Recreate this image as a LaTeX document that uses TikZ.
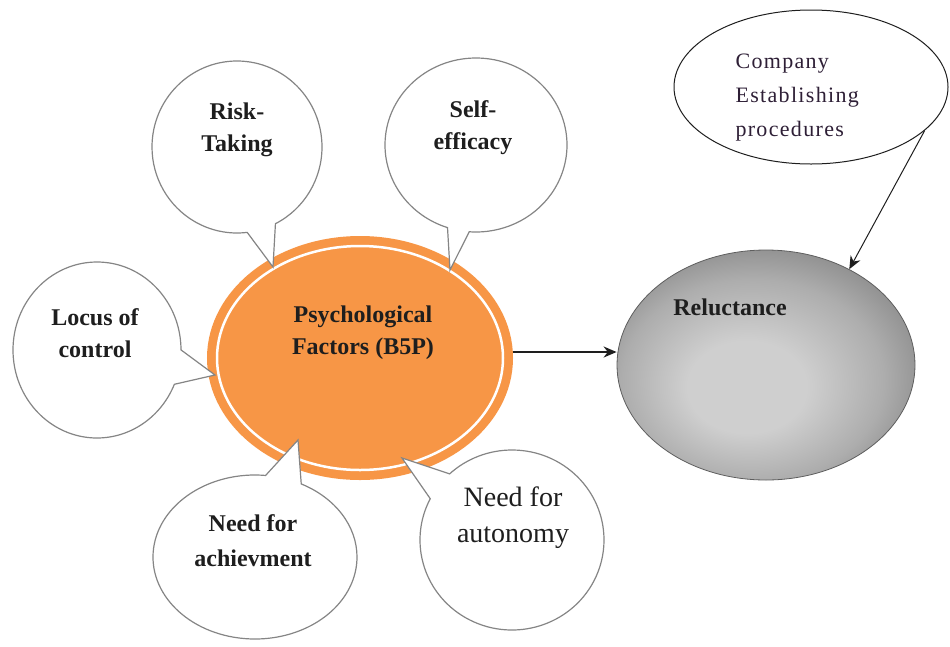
\documentclass[tikz,border=0pt]{standalone}
\usepackage{fontspec}
\setmainfont{Liberation Serif}
\newfontfamily\spacedserif[LetterSpace=6]{Liberation Serif}
\usetikzlibrary{arrows.meta,shapes.geometric,shapes.callouts}
\definecolor{psyorange}{HTML}{F79646}
\definecolor{bubblegray}{HTML}{858585}
\definecolor{inkblack}{HTML}{1E1E1E}
\definecolor{procink}{HTML}{2E1F36}
\definecolor{relLight}{HTML}{CFCFCF}
\definecolor{relMid}{HTML}{ADADAD}
\definecolor{relEdge}{HTML}{8A8A8A}
\definecolor{relDark}{HTML}{5E5E5E}
\pgfdeclareradialshading{relshade}{\pgfpoint{-4bp}{-6bp}}{color(0bp)=(relLight); color(10bp)=(relLight); color(22bp)=(relMid); color(30bp)=(relEdge); color(50bp)=(relDark)}

\begin{document}
\begin{tikzpicture}[x=1pt,y=-1pt,>={Stealth[length=13pt,width=11pt]},
    bubble node/.style={ellipse callout,draw=bubblegray,fill=white,line width=1.2pt,inner sep=0pt},
    bold text/.style={align=center,text=inkblack,font=\bfseries\fontsize{24}{32}\selectfont}]

  \useasboundingbox (0,0) rectangle (950,646);

  % central factor and the outcome
  \node[ellipse,minimum width=286pt,minimum height=224pt,fill=psyorange,draw=white,
        line width=2.5pt,outer sep=10pt,preaction={draw=psyorange,line width=20pt}] (psy) at (360,358) {};
  \node[ellipse,minimum width=298pt,minimum height=230pt,shading=relshade,
        draw=relDark,line width=0.8pt] (rel) at (766,365) {};
  \node[ellipse,minimum width=274pt,minimum height=154pt,fill=white,
        draw=inkblack,line width=1pt] (comp) at (811,87) {};

  % the five callouts
  \node[bubble node,minimum width=170pt,minimum height=172pt,callout pointer arc=20,
        callout absolute pointer={(273,267)}] (risk) at (237,147) {};
  \node[bubble node,minimum width=182pt,minimum height=174pt,callout pointer arc=14,
        callout absolute pointer={(450,270)}] (self) at (476,145) {};
  \node[bubble node,minimum width=168pt,minimum height=176pt,callout pointer arc=23,
        callout absolute pointer={(215,375)}] (locus) at (97,350) {};
  \node[bubble node,minimum width=204pt,minimum height=164pt,callout pointer arc=21,
        callout absolute pointer={(298,440)}] (achieve) at (255,557) {};
  \node[bubble node,minimum width=184pt,minimum height=180pt,callout pointer arc=20,
        callout absolute pointer={(402,458)}] (autonomy) at (512,540) {};

  % texts
  \node[bold text] (psylabel) at (363,333) {Psychological\\Factors (B5P)};
  \node[bold text] (rellabel) at (730,307) {Reluctance};
  \node[bold text] (risklabel) at (237,130) {Risk-\\Taking};
  \node[bold text] (selflabel) at (473,128) {Self-\\efficacy};
  \node[bold text] (locuslabel) at (95,333) {Locus of\\control};
  \node[bold text,font=\bfseries\fontsize{24}{35}\selectfont] (achievelabel) at (253,541) {Need for\\achievment};
  \node[align=center,text=inkblack,font=\fontsize{28}{36}\selectfont] (autonomylabel) at (513,518) {Need for\\autonomy};
  \node[align=left,anchor=north west,text=procink,font=\spacedserif\fontsize{22}{34}\selectfont]
    (complabel) at (732,50) {Company\\Establishing\\procedures};

  % arrows
  \draw[->,line width=2pt,inkblack] ([yshift=6pt]psy.east) -- ([yshift=6pt]psy.east -| rel.west);
  \draw[->,line width=1pt,inkblack] (comp.-21) -- (rel.49);
\end{tikzpicture}
\end{document}
